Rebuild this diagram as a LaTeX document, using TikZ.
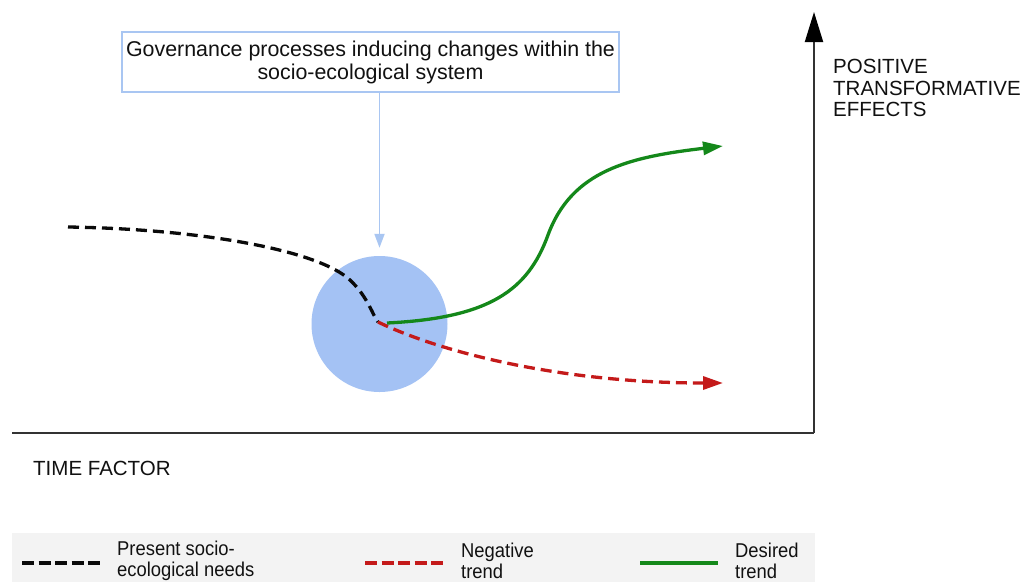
\documentclass[tikz,border=0pt]{standalone}
\usepackage{fontspec}
\setmainfont{Liberation Sans}
\newfontfamily\narrowfont[FakeStretch=0.92]{Liberation Sans}
\usetikzlibrary{arrows.meta}
\definecolor{sysblue}{HTML}{A4C2F4}
\definecolor{boxblue}{HTML}{A9C6F2}
\definecolor{legendgray}{HTML}{F3F3F3}
\definecolor{axisgray}{HTML}{333333}
\definecolor{needsblack}{HTML}{0A0A0A}
\definecolor{negred}{HTML}{C41A1A}
\definecolor{desgreen}{HTML}{14881A}
\definecolor{txt}{HTML}{111111}
\tikzset{
  needsline/.style={needsblack, line width=3.3pt, dash pattern=on 11pt off 6pt},
  negline/.style={negred, line width=3.3pt, dash pattern=on 11pt off 6pt},
  desline/.style={desgreen, line width=3.3pt},
  curvetip/.style={-{Triangle[length=20pt,width=13pt]}},
  axisline/.style={axisgray, line width=2pt},
  axlabel/.style={text=txt, font=\fontsize{20.5}{23}\selectfont, inner sep=0pt},
  legtext/.style={text=txt, font=\narrowfont\fontsize{20}{21.5}\selectfont, align=left, inner sep=0pt, anchor=west},
}
\begin{document}
\begin{tikzpicture}[x=1pt,y=-1pt]
\useasboundingbox (0,0) rectangle (1031,582);
\fill[white] (0,0) rectangle (1031,582);
% legend band
\fill[legendgray] (12,533) rectangle (815,582);
% governance box
\node[draw=boxblue, line width=1.3pt, minimum width=497pt, minimum height=60pt,
      align=center, text=txt, font=\fontsize{21.4}{23}\selectfont, inner sep=0pt]
      (gov) at (370.5,62) {Governance processes inducing changes within the\\socio-ecological system};
% system circle
\node[circle, fill=sysblue, minimum size=136pt, inner sep=0pt] (sys) at (379.5,324) {};
\draw[boxblue, line width=1.8pt, -{Triangle[length=14pt,width=10pt]}, shorten >=8pt]
  (gov.south -| sys.north) -- (sys.north);
% axes
\coordinate (origin) at (814,433);
\coordinate (xstart) at (12,433);
\coordinate (ytop) at (814,12);
\draw[axisline] (xstart) -- (origin);
\draw[axisline, -{Triangle[length=30pt,width=18pt,color=black]}] (origin) -- (ytop);
% curves
\coordinate (nstart) at (68,227);
\coordinate (pin) at (378,322);
\coordinate (gstart) at (387,323);
\coordinate (gend) at (723,146);
\coordinate (rend) at (723,383);
\draw[needsline] (nstart) .. controls (200,229) and (318,250) .. (350,280)
                        .. controls (368,297) and (373,316) .. (pin);
\draw[negline, curvetip] (pin) .. controls (440,352) and (560,383) .. (rend);
\draw[desline, curvetip] (gstart) .. controls (490,318) and (528,290) .. (548,235)
                        .. controls (572,170) and (630,157) .. (gend);
% axis labels
\node[axlabel, anchor=base west] (lab1) at (833,73) {POSITIVE};
\node[axlabel, anchor=base west] (lab2) at (833,95) {TRANSFORMATIVE};
\node[axlabel, anchor=base west] (lab3) at (833,116.5) {EFFECTS};
\node[axlabel, anchor=base west] (time) at (33,475) {TIME FACTOR};
% legend
\coordinate (l1a) at (22,563); \coordinate (l1b) at (100,563);
\coordinate (l2a) at (365,563); \coordinate (l2b) at (443,563);
\coordinate (l3a) at (640,563); \coordinate (l3b) at (718,563);
\draw[needsblack, line width=3.5pt, dash pattern=on 12pt off 4.5pt] (l1a) -- (l1b);
\draw[negred, line width=3.5pt, dash pattern=on 12pt off 4.5pt] (l2a) -- (l2b);
\draw[desline, line width=3.5pt] (l3a) -- (l3b);
\node[legtext] (leg1) at (117,561) {Present socio-\\ecological needs};
\node[legtext] (leg2) at (461,561) {Negative\\trend};
\node[legtext] (leg3) at (735,561) {Desired\\trend};
\end{tikzpicture}
\end{document}
